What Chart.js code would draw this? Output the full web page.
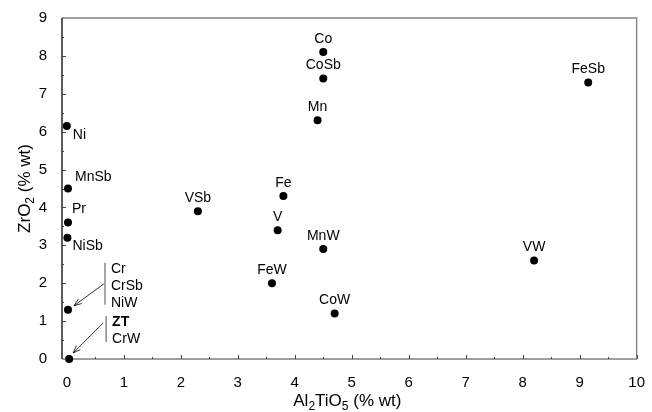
<!DOCTYPE html>
<html>
<head>
<meta charset="utf-8">
<script src="https://cdn.jsdelivr.net/npm/chart.js@4.4.1/dist/chart.umd.min.js"></script>
<style>
  html, body { margin: 0; padding: 0; background: #fff; }
  #wrap { width: 652px; height: 412px; }
</style>
</head>
<body>
<div id="wrap"><canvas id="zrChart"></canvas></div>
<script>
// sample names and composition (% wt)
const samples = ['Co', 'CoSb', 'Mn', 'Fe', 'FeSb', 'VSb', 'V', 'MnW', 'FeW', 'CoW', 'VW',
                 'Ni', 'MnSb', 'Pr', 'NiSb', 'Cr', 'ZT'];
const al2tio5 = [4.5, 4.5, 4.4, 3.8, 9.15, 2.3, 3.7, 4.5, 3.6, 4.7, 8.2,
                 0.0, 0.02, 0.02, 0.01, 0.02, 0.04];
const zro2 = [8.1, 7.4, 6.3, 4.3, 7.3, 3.9, 3.4, 2.9, 2.0, 1.2, 2.6,
              6.15, 4.5, 3.6, 3.2, 1.3, 0.0];
// points shared by several samples
const groupCr = ['Cr', 'CrSb', 'NiW'];
const groupZT = ['ZT', 'CrW'];
const xTicks = [0, 1, 2, 3, 4, 5, 6, 7, 8, 9, 10];
const yTicks = [0, 1, 2, 3, 4, 5, 6, 7, 8, 9];

const FONT = "'Liberation Sans', Arial, sans-serif";

// where each label sits relative to its dot
const labelPos = {
  Ni:   { dx: 6, dy: 9, align: 'left' },
  MnSb: { dx: 7, dy: -11, align: 'left' },
  Pr:   { dx: 4, dy: -13, align: 'left' },
  NiSb: { dx: 5, dy: 8, align: 'left' }
};

function drawRich(ctx, parts, size, subSize) {
  let w = 0;
  parts.forEach(p => {
    ctx.font = (p.sub ? subSize : size) + 'px ' + FONT;
    w += ctx.measureText(p.t).width;
  });
  let x = -w / 2;
  parts.forEach(p => {
    ctx.font = (p.sub ? subSize : size) + 'px ' + FONT;
    ctx.fillText(p.t, x, p.sub ? 4 : 0);
    x += ctx.measureText(p.t).width;
  });
}

function arrow(ctx, x1, y1, x2, y2) {
  ctx.beginPath();
  ctx.moveTo(x1, y1);
  ctx.lineTo(x2, y2);
  const a = Math.atan2(y2 - y1, x2 - x1);
  const L = 8;
  ctx.moveTo(x2, y2);
  ctx.lineTo(x2 - L * Math.cos(a - 0.35), y2 - L * Math.sin(a - 0.35));
  ctx.moveTo(x2, y2);
  ctx.lineTo(x2 - L * Math.cos(a + 0.35), y2 - L * Math.sin(a + 0.35));
  ctx.stroke();
}

const decor = {
  id: 'decor',
  beforeDatasetsDraw(chart) {
    const ctx = chart.ctx;
    const a = chart.chartArea;
    const xs = chart.scales.x, ys = chart.scales.y;
    ctx.save();

    // frame
    ctx.lineWidth = 1.3;
    ctx.strokeStyle = '#808080';
    ctx.beginPath();
    ctx.moveTo(a.left, a.top); ctx.lineTo(a.right, a.top);
    ctx.lineTo(a.right, a.bottom); ctx.lineTo(a.left, a.bottom);
    ctx.stroke();
    ctx.strokeStyle = '#000';
    ctx.beginPath();
    ctx.moveTo(a.left, a.top); ctx.lineTo(a.left, a.bottom);
    ctx.stroke();

    // inward ticks, minor at halves
    ctx.lineWidth = 1;
    ctx.strokeStyle = '#444';
    ctx.beginPath();
    for (let v = 0; v <= 10; v += 0.5) {
      const px = Math.round(xs.getPixelForValue(v)) + 0.5;
      const len = Number.isInteger(v) ? 4 : 2;
      ctx.moveTo(px, a.bottom); ctx.lineTo(px, a.bottom - len);
    }
    for (let v = 0.5; v < 9; v += 0.5) {
      const py = Math.round(ys.getPixelForValue(v)) + 0.5;
      const len = Number.isInteger(v) ? 4 : 2;
      ctx.moveTo(a.left, py); ctx.lineTo(a.left + len, py);
    }
    ctx.stroke();
    ctx.restore();
  },
  afterDraw(chart) {
    const ctx = chart.ctx;
    const a = chart.chartArea;
    ctx.save();

    // point labels
    const meta = chart.getDatasetMeta(0);
    ctx.fillStyle = '#000';
    ctx.font = '14px ' + FONT;
    ctx.textBaseline = 'middle';
    samples.forEach((name, i) => {
      const p = meta.data[i];
      if (name === 'Cr' || name === 'ZT') return;
      const lp = labelPos[name];
      if (lp) {
        ctx.textAlign = 'left';
        ctx.fillText(name, p.x + lp.dx, p.y + lp.dy);
      } else {
        ctx.textAlign = 'center';
        ctx.fillText(name, p.x, p.y - 13);
      }
    });

    // grouped labels with bracket and arrow
    const groups = [
      { names: groupCr, p: meta.data[samples.indexOf('Cr')], top: -41, step: 17,
        bar: [-47, -5], from: [36, -26], to: [6, -4] },
      { names: groupZT, p: meta.data[samples.indexOf('ZT')], top: -37, step: 17,
        bar: [-43, -17], from: [34, -36], to: [4, -6] }
    ];
    groups.forEach(g => {
      const bx = g.p.x + 37;
      ctx.strokeStyle = '#888';
      ctx.lineWidth = 1.5;
      ctx.beginPath();
      ctx.moveTo(bx, g.p.y + g.bar[0]); ctx.lineTo(bx, g.p.y + g.bar[1]);
      ctx.stroke();
      ctx.strokeStyle = '#000';
      ctx.lineWidth = 0.8;
      arrow(ctx, g.p.x + g.from[0], g.p.y + g.from[1], g.p.x + g.to[0], g.p.y + g.to[1]);
      ctx.textAlign = 'left';
      g.names.forEach((n, k) => {
        ctx.font = (n === 'ZT' ? 'bold ' : '') + '14px ' + FONT;
        ctx.fillText(n, g.p.x + 43, g.p.y + g.top + k * g.step);
      });
    });

    // axis titles
    ctx.textBaseline = 'alphabetic';
    ctx.fillStyle = '#000';
    ctx.save();
    ctx.translate((a.left + a.right) / 2 - 2, 406);
    drawRich(ctx, [{ t: 'Al' }, { t: '2', sub: true }, { t: 'TiO' }, { t: '5', sub: true }, { t: ' (% wt)' }], 17, 12);
    ctx.restore();
    ctx.save();
    ctx.translate(30, (a.top + a.bottom) / 2);
    ctx.rotate(-Math.PI / 2);
    drawRich(ctx, [{ t: 'ZrO' }, { t: '2', sub: true }, { t: ' (% wt)' }], 17, 12);
    ctx.restore();

    ctx.restore();
  }
};

new Chart(document.getElementById('zrChart'), {
  type: 'scatter',
  data: {
    datasets: [{
      data: al2tio5.map((x, i) => ({ x: x, y: zro2[i] })),
      backgroundColor: '#000',
      borderWidth: 0,
      pointRadius: 4,
      pointHoverRadius: 4,
      clip: false
    }]
  },
  options: {
    responsive: true,
    maintainAspectRatio: false,
    animation: false,
    layout: { padding: { left: 0, top: 18, right: 10, bottom: 0 } },
    plugins: { legend: { display: false }, tooltip: { enabled: false } },
    scales: {
      x: {
        type: 'linear',
        min: -0.085,
        max: 10,
        afterFit: s => { s.height = 53; },
        afterBuildTicks: s => { s.ticks = xTicks.map(v => ({ value: v })); },
        grid: { display: false },
        border: { display: false },
        ticks: { padding: 7, color: '#000', font: { family: FONT, size: 15 } }
      },
      y: {
        min: 0,
        max: 9,
        afterFit: s => { s.width = 62; },
        afterBuildTicks: s => { s.ticks = yTicks.map(v => ({ value: v })); },
        grid: { display: false },
        border: { display: false },
        ticks: { padding: 7, color: '#000', font: { family: FONT, size: 15 } }
      }
    }
  },
  plugins: [decor]
});
</script>
</body>
</html>
